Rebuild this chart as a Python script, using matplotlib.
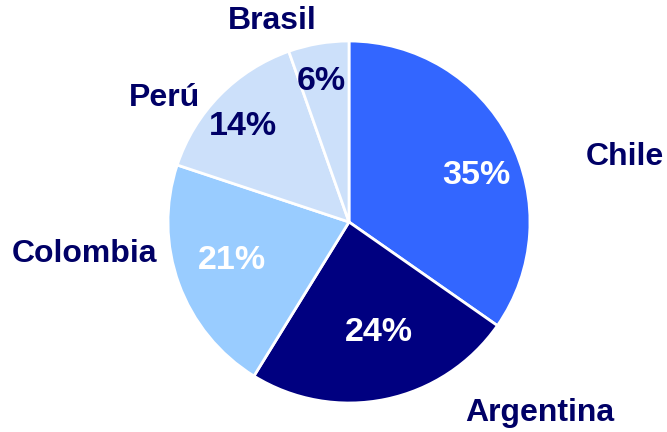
import matplotlib.pyplot as plt
import numpy as np

countries = ["Chile", "Argentina", "Colombia", "Perú", "Brasil"]
shares = [34.7, 24.1, 21.3, 14.5, 5.4]
pct_labels = ["35%", "24%", "21%", "14%", "6%"]

colors = ["#3366FF", "#000080", "#99CCFF", "#CCE0FA", "#CCE0FA"]
pct_colors = ["white", "white", "white", "#000066", "#000066"]

# label placement (angle in degrees, distance in radius units)
name_pos = [(13.3, 1.565), (-45, 1.49), (187, 1.47), (146, 1.23), (111, 1.19)]
pct_pos = [(20, 0.75), (-75, 0.63), (198, 0.68), (138, 0.79), (101, 0.79)]

plt.rcParams["font.family"] = ["Liberation Sans", "DejaVu Sans"]

fig = plt.figure(figsize=(6.67, 4.32), dpi=100)
ax = fig.add_axes([0, 0, 1, 1])

cx, cy, r = 349, 432 - 222, 181

ax.pie(
    shares,
    colors=colors,
    startangle=90,
    counterclock=False,
    center=(cx, cy),
    radius=r,
    wedgeprops=dict(edgecolor="white", linewidth=2),
    frame=True,
)
ax.set_xlim(0, 667)
ax.set_ylim(0, 432)
ax.set_aspect("equal")
ax.axis("off")

for name, pct, pc, (a1, d1), (a2, d2) in zip(countries, pct_labels, pct_colors, name_pos, pct_pos):
    t1 = np.radians(a1)
    ax.text(cx + d1 * r * np.cos(t1), cy + d1 * r * np.sin(t1), name,
            ha="center", va="center", fontsize=23, fontweight="bold", color="#000066")
    t2 = np.radians(a2)
    ax.text(cx + d2 * r * np.cos(t2), cy + d2 * r * np.sin(t2), pct,
            ha="center", va="center", fontsize=24.5, fontweight="bold", color=pc)

fig.savefig("out.png", dpi=100)
